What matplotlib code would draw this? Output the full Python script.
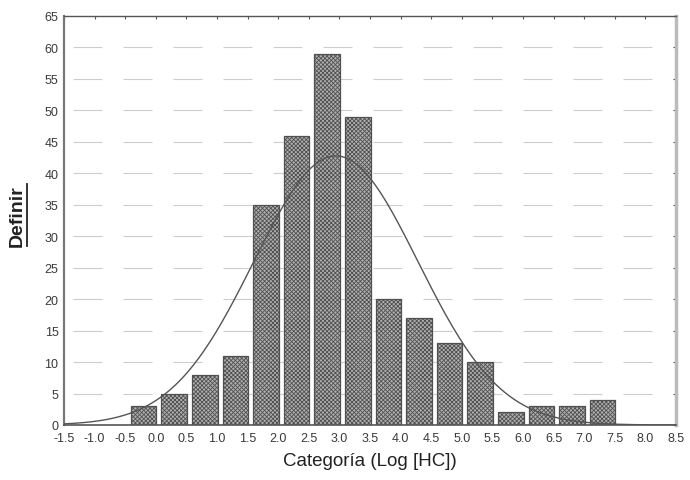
import numpy as np
import matplotlib
matplotlib.use("Agg")
import matplotlib.pyplot as plt
from matplotlib.lines import Line2D

plt.rcParams['font.family'] = ['Liberation Sans', 'DejaVu Sans']
plt.rcParams['hatch.linewidth'] = 0.6

# ---- data ----
bin_left = [-0.5, 0.0, 0.5, 1.0, 1.5, 2.0, 2.5, 3.0, 3.5, 4.0, 4.5, 5.0, 5.5, 6.0, 6.5, 7.0]
counts = [3, 5, 8, 11, 35, 46, 59, 49, 20, 17, 13, 10, 2, 3, 3, 4]
bin_width = 0.5
xticks = [-1.5, -1.0, -0.5, 0.0, 0.5, 1.0, 1.5, 2.0, 2.5, 3.0, 3.5, 4.0,
          4.5, 5.0, 5.5, 6.0, 6.5, 7.0, 7.5, 8.0, 8.5]
yticks = [0, 5, 10, 15, 20, 25, 30, 35, 40, 45, 50, 55, 60, 65]
xlabel = "Categoría (Log [HC])"
ylabel = "Definir"

# normal fit from the histogram itself
centers = np.array(bin_left) + bin_width / 2
c = np.array(counts, dtype=float)
n = c.sum()
mu = (c * centers).sum() / n
sd = np.sqrt((c * (centers - mu) ** 2).sum() / n)
xs = np.linspace(-1.5, 8.5, 400)
ys = n * bin_width / (sd * np.sqrt(2 * np.pi)) * np.exp(-0.5 * ((xs - mu) / sd) ** 2)

fig = plt.figure(figsize=(6.9, 4.81), dpi=100)
ax = fig.add_axes([64 / 690, 1 - 426 / 481, (676 - 64) / 690, (426 - 17) / 481])

# grid
for yv in yticks[1:-1]:
    ax.axhline(yv, color='#cdcdcd', lw=0.8, ls=(36.9, (26.1, 18.9)), zorder=0)

ax.bar(np.array(bin_left) + 0.09, counts, width=0.42, align='edge',
       facecolor='#b0b0b0', edgecolor='#505050', hatch='xxxxxxxx', linewidth=0.9, zorder=2)

ax.plot(xs, ys, color='#555555', lw=1.0, zorder=3)

ax.set_xlim(-1.5, 8.5)
ax.set_ylim(0, 65)
ax.set_xticks(xticks)
ax.set_xticklabels([f"{v:.1f}" for v in xticks], fontsize=9, color='#3a3a3a')
ax.set_yticks(yticks)
ax.set_yticklabels([str(v) for v in yticks], fontsize=9, color='#3a3a3a')
ax.tick_params(axis='both', which='both', length=0, pad=4)
ax.tick_params(axis='x', pad=5)

# small inward ticks on top and right
ax2 = ax.secondary_xaxis('top')
ax2.set_xticks(xticks)
ax2.tick_params(direction='in', length=2.5, color='#555555', labeltop=False)
ax3 = ax.secondary_yaxis('right')
ax3.set_yticks(yticks)
ax3.tick_params(direction='in', length=2.5, color='#555555', labelright=False)

for s, col, lw in [('left', '#777777', 1.6), ('bottom', '#555555', 1.2),
                   ('top', '#555555', 1.0)]:
    ax.spines[s].set_color(col)
    ax.spines[s].set_linewidth(lw)
ax.spines['right'].set_visible(False)
ax2.spines['top'].set_visible(False)
ax3.spines['right'].set_color('#bbbbbb')
ax3.spines['right'].set_linewidth(2.5)

ax.set_xlabel(xlabel, fontsize=13.5, color='#222222', labelpad=6)

yl = fig.text(17 / 690, 1 - 216 / 481, ylabel, rotation=90, fontsize=14,
              fontweight='bold', ha='center', va='center', color='#222222')
fig.canvas.draw()
bb = yl.get_window_extent(fig.canvas.get_renderer())
W, H = fig.bbox.width, fig.bbox.height
ux = (bb.x1 + 1.5) / W
fig.add_artist(Line2D([ux, ux], [bb.y0 / H, bb.y1 / H], color='#222222', lw=1.3,
                      transform=fig.transFigure))

fig.savefig("out.png", dpi=100)
